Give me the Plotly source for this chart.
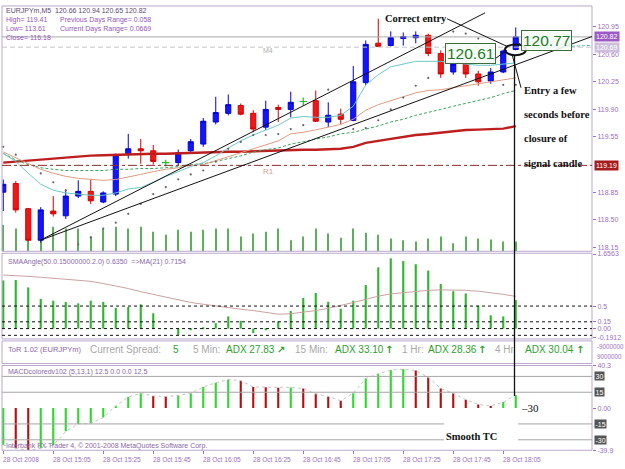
import plotly.graph_objects as go

# ---------------- data ----------------
tick_labels = ["28 Oct 2008", "28 Oct 15:05", "28 Oct 15:25", "28 Oct 15:45", "28 Oct 16:05",
               "28 Oct 16:25", "28 Oct 16:45", "28 Oct 17:05", "28 Oct 17:25", "28 Oct 17:45",
               "28 Oct 18:05"]
tick_bars = [0, 4, 8, 12, 16, 20, 24, 28, 32, 36, 40]

opens = [118.85, 118.96, 118.64, 118.24, 118.61, 118.55, 118.80, 118.86, 118.725, 118.825,
         119.34, 119.40, 119.375, 119.225, 119.225, 119.375, 119.46, 119.74, 119.85, 119.95,
         119.85, 119.675, 119.925, 119.90, 120.00, 120.01, 119.74, 119.84, 119.76, 120.24,
         120.74, 120.71, 120.80, 120.81, 120.84, 120.61, 120.375, 120.475, 120.35, 120.26,
         120.375, 120.66]
highs = [119.01, 118.99, 118.65, 118.66, 118.80, 118.875, 119.00, 119.01, 118.86, 119.34,
         119.59, 119.525, 119.45, 119.26, 119.39, 119.525, 119.79, 120.06, 120.09, 119.975,
         119.89, 120.01, 119.96, 120.125, 120.05, 120.14, 119.99, 119.91, 120.45, 120.775,
         121.05, 120.89, 120.875, 120.89, 120.86, 120.65, 120.51, 120.51, 120.39, 120.425,
         120.66, 120.94]
lows = [118.61, 118.59, 118.225, 118.21, 118.54, 118.51, 118.775, 118.70, 118.71, 118.80,
        119.275, 119.21, 119.20, 119.175, 119.19, 119.35, 119.425, 119.71, 119.825, 119.825,
        119.61, 119.64, 119.74, 119.80, 119.95, 119.74, 119.675, 119.71, 119.75, 120.21,
        120.69, 120.70, 120.71, 120.74, 120.575, 120.30, 120.34, 120.30, 120.20, 120.225,
        120.36, 120.65]
closes = [118.95, 118.625, 118.24, 118.625, 118.575, 118.80, 118.86, 118.74, 118.84, 119.325,
          119.40, 119.375, 119.24, 119.225, 119.35, 119.49, 119.75, 119.86, 119.96, 119.84,
          119.65, 119.90, 119.90, 119.99, 120.00, 119.75, 119.825, 119.775, 120.25, 120.725,
          120.70, 120.81, 120.825, 120.84, 120.61, 120.35, 120.475, 120.35, 120.25, 120.375,
          120.64, 120.82]
volume = [43, 37, 48, 48, 40, 37, 37, 24, 37, 40, 37, 40, 32, 27, 35, 32, 35, 37, 37, 24,
          29, 32, 37, 18, 24, 37, 29, 22, 37, 30, 27, 21, 18, 16, 21, 24, 13, 24, 21, 19, 16, 16]
sar = [119.425, 119.325, None, 119.0875, 118.975, 118.875, 118.1875, 118.275, 118.3875, 118.4625,
       118.575, 118.70, 118.825, 118.9125, 119.0125, 119.075, 119.125, 119.2375, 119.40, 119.4875,
       119.575, 119.575, 119.5875, 119.65, 119.70, None, 120.15, None, 119.65, 119.6625,
       119.7625, 119.90, 120.05, 120.20, 120.30, None, 120.8875, 120.8625, 120.80, None,
       120.2125, 120.2125]
ma_fast = [119.34, 119.24, 119.09, 118.95, 118.875, 118.84, 118.825, 118.81, 118.81, 118.84,
           118.89, 118.91, 118.975, 119.05, 119.11, 119.175, 119.225, 119.31, 119.41, 119.50,
           119.575, 119.64, 119.70, 119.79, 119.81, 119.80, 119.80, 119.825, 119.94, 120.21,
           120.34, 120.44, 120.475, 120.51, 120.51, 120.51, 120.49, 120.475, 120.46, 120.46,
           120.475, 120.49]
ma_mid = [119.36, 119.29, 119.21, 119.14, 119.09, 119.05, 119.025, 119.01, 119.00, 119.01,
          119.04, 119.075, 119.11, 119.14, 119.16, 119.19, 119.20, 119.25, 119.30, 119.35,
          119.40, 119.45, 119.50, 119.59, 119.61, 119.64, 119.675, 119.71, 119.775, 119.89,
          119.96, 120.01, 120.06, 120.11, 120.14, 120.15, 120.175, 120.20, 120.225, 120.25,
          120.275, 120.30]
ma_slow = [119.34, 119.26, 119.20, 119.16, 119.14, 119.125, 119.125, 119.125, 119.125, 119.14,
           119.14, 119.15, 119.15, 119.16, 119.175, 119.20, 119.21, 119.24, 119.275, 119.31,
           119.36, 119.39, 119.41, 119.46, 119.49, 119.525, 119.55, 119.59, 119.61, 119.65,
           119.69, 119.74, 119.775, 119.825, 119.86, 119.90, 119.94, 119.975, 120.01, 120.05,
           120.10, 120.14]
ma_long = [119.225, 119.238, 119.25, 119.263, 119.275, 119.288, 119.30, 119.313, 119.319, 119.325,
           119.331, 119.331, 119.338, 119.338, 119.344, 119.35, 119.35, 119.356, 119.363, 119.363,
           119.369, 119.375, 119.381, 119.388, 119.388, 119.388, 119.394, 119.40, 119.425, 119.475,
           119.50, 119.525, 119.55, 119.575, 119.588, 119.606, 119.625, 119.638, 119.644, 119.65,
           119.656, 119.688]
price_ticks = [120.95, 120.60, 120.25, 119.90, 119.55, 118.85, 118.50, 118.15]
bid_price = 120.82
m4_price = 120.69
r1_price = 119.19
trendlines = [((2.94, 118.2375), (38.54, 121.125)),
              ((2.94, 118.2375), (47.1, 120.825))]
entry_prices = [120.61, 120.77]

sma_angle = [1.07, 1.08, 0.915, 0.66, 0.62, 0.59, 0.56, 0.62, 0.59, 0.46,
             0.48, 0.54, 0.34, -0.01, -0.14, -0.03, 0.03, 0.12, 0.27, 0.17,
             -0.10, -0.03, 0.16, 0.39, 0.68, 0.79, 0.595, 0.44, 0.62, 0.97,
             1.36, 1.56, 1.50, 1.43, 1.29, 0.99, 0.83, 0.78, 0.51, 0.295, 0.27, 0.635]
sma_ma21 = [1.19, 1.18, 1.16, 1.14, 1.12, 1.10, 1.08, 1.05, 1.00, 0.95,
            0.89, 0.82, 0.76, 0.70, 0.64, 0.58, 0.54, 0.50, 0.46, 0.43,
            0.40, 0.36, 0.32, 0.33, 0.36, 0.40, 0.45, 0.51, 0.58, 0.65,
            0.72, 0.77, 0.80, 0.83, 0.85, 0.86, 0.86, 0.85, 0.83, 0.80, 0.76, 0.7154]
sma_levels = [0.5, 0.15, 0.0, -0.15]
sma_ticks = [1.6563, 0.5, 0.15, 0.0, -0.1912]
sma_ticktext = ["1.6563", "0.5", "0.15", "0.00", "-0.1912"]

macd = [-35, -38, -40, -38, -35, -22, -15, -14.5, -9, 2,
        10.5, 14, 11.5, 11, 12, 14, 20, 24, 27, 26,
        20, 19.8, 19.3, 19.6, 18.5, 13.5, 11, 7, 14, 28,
        32.5, 36, 37, 35.5, 29, 18.5, 14, 8, 3.5, 2, 5.7, 12.5]
macd_levels = [30, 15, -15, -30]
macd_range = [-39.9, 40.3]

spread = 5
adx_tf = ["5 Min:", "15 Min:", "1 Hr:", "4 Hr"]
adx_values = [27.83, 33.10, 28.36, 30.04]
adx_arrows = ["\u2197", "\u2191", "\u2191", "\u2191"]
info_high, info_low, info_close = 119.41, 113.61, 116.18
prev_range, cur_range = 0.058, 0.0669

# ---------------- geometry helpers ----------------
W, H = 625, 469
def PX(x):
    return x / W
def PY(y):
    return 1 - y / H

X_RANGE = [-0.1, 47.1]
FRAME_L, FRAME_R = 2, 592
MAIN = (2, 251)
SMA = (253, 340)
TOR = (342, 365)
MACD = (367, 453)

AXC = "#9a70bf"
FRAMEC = "#b9a7cc"
n = len(closes)
idx = list(range(n))
body_i = [i for i in idx if opens[i] != closes[i]]
doji_i = [i for i in idx if opens[i] == closes[i]]

fig = go.Figure()

# volume (base axis of main panel)
fig.add_trace(go.Bar(x=idx, y=volume, width=0.08, marker=dict(color="#5cb05c", line_width=0),
                     xaxis="x", yaxis="y"))

# moving averages + SAR on the price axis
fig.add_trace(go.Scatter(x=idx, y=ma_long, mode="lines", line=dict(color="#bf1e1e", width=2.4),
                         xaxis="x", yaxis="y2"))
fig.add_trace(go.Scatter(x=idx, y=ma_slow, mode="lines", line=dict(color="#3fa060", width=1, dash="3px,2px"),
                         xaxis="x", yaxis="y2"))
fig.add_trace(go.Scatter(x=idx, y=ma_mid, mode="lines", line=dict(color="#dc9c80", width=1),
                         xaxis="x", yaxis="y2"))
fig.add_trace(go.Scatter(x=idx, y=ma_fast, mode="lines", line=dict(color="#6cc8c8", width=1),
                         xaxis="x", yaxis="y2"))
fig.add_trace(go.Scatter(x=idx, y=sar, mode="markers", marker=dict(color="#666666", size=2.2),
                         xaxis="x", yaxis="y2"))

fig.add_trace(go.Candlestick(
    x=body_i, open=[opens[i] for i in body_i], high=[highs[i] for i in body_i],
    low=[lows[i] for i in body_i], close=[closes[i] for i in body_i],
    increasing=dict(line=dict(color="#0000d8", width=1), fillcolor="#1414ff"),
    decreasing=dict(line=dict(color="#d80000", width=1), fillcolor="#ee1818"),
    whiskerwidth=0, xaxis="x", yaxis="y2"))
if doji_i:
    gaps = [b - a for a, b in zip(doji_i[:-1], doji_i[1:])]
    tw = 0.3 / min(gaps) if gaps else 0.3
    fig.add_trace(go.Ohlc(
        x=doji_i, open=[opens[i] for i in doji_i], high=[highs[i] for i in doji_i],
        low=[lows[i] for i in doji_i], close=[closes[i] for i in doji_i],
        increasing_line_color="#22bb22", decreasing_line_color="#22bb22",
        line_width=1.2, tickwidth=min(tw, 0.5), xaxis="x", yaxis="y2"))

# SMA angle panel
fig.add_trace(go.Bar(x=idx, y=sma_angle, width=0.17, marker=dict(color="#2fb52f", line_width=0),
                     xaxis="x", yaxis="y3"))
fig.add_trace(go.Scatter(x=idx, y=sma_ma21, mode="lines", line=dict(color="#c9a3a0", width=1),
                         xaxis="x", yaxis="y3"))

# MACD panel
macd_cols = ["#2ed82e" if (i == 0 or macd[i] >= macd[i - 1]) else "#b01010" for i in idx]
fig.add_trace(go.Bar(x=idx, y=macd, width=0.17, marker=dict(color=macd_cols, line_width=0),
                     xaxis="x", yaxis="y5"))
fig.add_trace(go.Scatter(x=idx, y=macd, mode="lines", line=dict(color="#c4c4c4", width=1, dash="dot"),
                         xaxis="x", yaxis="y5"))

# ---------------- shapes ----------------
shapes = []
for (t, b) in (MAIN, SMA, TOR, MACD):
    shapes.append(dict(type="rect", xref="paper", yref="paper", x0=PX(FRAME_L), x1=PX(FRAME_R),
                       y0=PY(b), y1=PY(t), line=dict(color=FRAMEC, width=1)))
shapes.append(dict(type="line", xref="x", yref="y2", x0=X_RANGE[0], x1=X_RANGE[1], y0=bid_price, y1=bid_price,
                   line=dict(color="#a8a8a8", width=1)))
shapes.append(dict(type="line", xref="x", yref="y2", x0=X_RANGE[0], x1=X_RANGE[1], y0=m4_price, y1=m4_price,
                   line=dict(color="#c4c4c4", width=1, dash="5px,3px")))
shapes.append(dict(type="line", xref="x", yref="y2", x0=X_RANGE[0], x1=X_RANGE[1], y0=r1_price, y1=r1_price,
                   line=dict(color="#8c2c2c", width=1, dash="dashdot")))
for lv in sma_levels:
    shapes.append(dict(type="line", xref="x", yref="y3", x0=X_RANGE[0], x1=X_RANGE[1], y0=lv, y1=lv,
                       line=dict(color="#111111", width=1, dash="dot")))
for lv in macd_levels:
    shapes.append(dict(type="line", xref="x", yref="y5", x0=X_RANGE[0], x1=X_RANGE[1], y0=lv, y1=lv,
                       line=dict(color="#a6a6a6", width=1)))
# white box behind "Smooth TC"
shapes.append(dict(type="rect", xref="paper", yref="paper", x0=PX(444), x1=PX(518), y0=PY(446.5), y1=PY(425),
                   fillcolor="white", line=dict(width=0)))
# trend lines
for (a, b) in trendlines:
    shapes.append(dict(type="line", xref="x", yref="y2", x0=a[0], y0=a[1], x1=b[0], y1=b[1],
                       line=dict(color="#111111", width=1)))
# pointers / markup
for (x0, y0, x1, y1) in [(447, 15, 507, 43), (493, 57, 507, 47), (512, 51, 521, 85),
                         (519, 40, 524, 43)]:
    shapes.append(dict(type="line", xref="paper", yref="paper", x0=PX(x0), y0=PY(y0), x1=PX(x1), y1=PY(y1),
                       line=dict(color="#111111", width=1)))
shapes.append(dict(type="line", xref="paper", yref="paper", x0=PX(527), y0=PY(45), x1=PX(590), y1=PY(42),
                   line=dict(color="#55c0c0", width=1, dash="3px,2px")))
shapes.append(dict(type="line", xref="paper", yref="paper", x0=PX(514.5), y0=PY(52), x1=PX(514.5), y1=PY(398),
                   line=dict(color="#111111", width=1.3)))
shapes.append(dict(type="circle", xref="paper", yref="paper", x0=PX(505), x1=PX(526), y0=PY(52), y1=PY(41),
                   line=dict(color="#111111", width=2)))

# ---------------- annotations ----------------
SANS = "Liberation Sans"
SERIF = "Liberation Serif"
def txt(x, y, s, size=7, color=AXC, family=SANS, xanchor="left", **kw):
    d = dict(x=PX(x), y=PY(y), xref="paper", yref="paper", text=s, showarrow=False,
             xanchor=xanchor, yanchor="middle", font=dict(size=size, color=color, family=family))
    d.update(kw)
    return d

ann = []
ann.append(txt(4, 7, f"EURJPYm,M5  {opens[-1]:.2f} {highs[-1]:.2f} {lows[-1]:.2f} {closes[-1]:.2f}",
               size=7, color="#5b4a72"))
ann.append(txt(4, 16, f"High= {info_high:.2f}", color="#9457b8"))
ann.append(txt(58, 16, f"Previous Days Range= {prev_range}", color="#9457b8"))
ann.append(txt(4, 25, f"Low= {info_low:.2f}", color="#9457b8"))
ann.append(txt(58, 25, f"Current Days Range= {cur_range}", color="#9457b8"))
ann.append(txt(4, 34, f"Close= {info_close:.2f}", color="#9457b8"))
ann.append(txt(261, 47, "M4", size=7, color="#b0b0b0"))
ann.append(txt(261, 170, "R1", size=8, color="#d69c8c"))

# right-axis boxed labels
for val, bg in [(bid_price, "#9b5cc4"), (m4_price, "#cdbfdc"), (r1_price, "#a41c1c")]:
    ann.append(dict(x=PX(594), y=val, xref="paper", yref="y2", text=f"{val:.2f}", showarrow=False,
                    xanchor="left", yanchor="middle", bgcolor=bg, borderpad=1,
                    font=dict(size=7, color="white", family=SANS)))
for lv in macd_levels:
    ann.append(dict(x=PX(594), y=lv, xref="paper", yref="y5", text=f"{lv}", showarrow=False,
                    xanchor="left", yanchor="middle", bgcolor="#555555", borderpad=0.5,
                    font=dict(size=7, color="white", family=SANS)))
ann.append(txt(595, 348, "-9000000", size=6.3))
ann.append(txt(595, 358, "9000000", size=6.3))

# drawn annotations on the chart
BOLD = dict(family=SERIF, color="#111111")
ann.append(txt(383, 15, "<b>Correct entry</b>", size=10.5, **BOLD))
for k, line in enumerate(["Entry a few", "seconds before", "closure of", "signal candle"]):
    ann.append(txt(522, 88 + 24.5 * k, f"<b>{line}</b>", size=10.5, **BOLD))
for val, cx, cy in [(entry_prices[0], 470, 50.5), (entry_prices[1], 546, 37)]:
    ann.append(dict(x=PX(cx), y=PY(cy), xref="paper", yref="paper", text=f"{val:.2f}", showarrow=False,
                    xanchor="center", yanchor="middle", bgcolor="rgba(246,252,246,0.9)",
                    bordercolor="#3d6b3d", borderwidth=1, borderpad=1,
                    font=dict(size=15.5, color="#24792a", family=SANS)))

# panel captions
ann.append(txt(6, 262, f"SMAAngle(50.0.15000000.2.0) {sma_angle[-1]:.4f}  =>MA(21) {sma_ma21[-1]:.4f}",
               size=7, color="#8a68a8"))
ann.append(txt(6, 351, "ToR 1.02 (EURJPYm)", size=7.5, color="#8a68a8"))
ann.append(txt(88, 351, "Current Spread:", size=10, color="#a8a8a8"))
ann.append(txt(171, 351, f"{spread}", size=10, color="#2ea02e"))
tf_x = [191, 293, 400, 493]
adx_x = [224, 333, 426, 523]
arr_x = [275, 383, 476, 574]
for tf, v, a, x1, x2, x3 in zip(adx_tf, adx_values, adx_arrows, tf_x, adx_x, arr_x):
    ann.append(txt(x1, 351, tf, size=10, color="#a8a8a8"))
    ann.append(txt(x2, 351, f"ADX {v:.2f}", size=10, color="#2ea02e"))
    ann.append(txt(x3, 351, f"<b>{a}</b>", size=10, color="#2ea02e", family="DejaVu Sans"))
ann.append(txt(6, 374, f"MACDcoloredv102 (5,13,1) {macd[-1]:.1f} 0.0 0.0 {macd[-1]:.1f}",
               size=7, color="#8a68a8"))
ann.append(txt(519, 410, "\u201330", size=11, color="#111111", family=SERIF))
ann.append(txt(471, 439, "<b>Smooth TC</b>", size=10.5, xanchor="center", **BOLD))
ann.append(txt(4, 449, "Interbank FX Trader 4, \u00a9 2001-2008 MetaQuotes Software Corp.", size=7,
               color="#8a68a8"))
# time labels (left-aligned at the tick like the terminal)
for b, lab in zip(tick_bars, tick_labels):
    ann.append(dict(x=b, y=PY(462), xref="x", yref="paper", text=lab, showarrow=False,
                    xanchor="left", yanchor="middle", xshift=-2,
                    font=dict(size=6.6, color=AXC, family=SANS)))

tickfont = dict(size=7, color=AXC, family=SANS)
fig.update_layout(
    width=W, height=H, margin=dict(l=0, r=0, t=0, b=0, pad=0),
    paper_bgcolor="white", plot_bgcolor="white", showlegend=False,
    barmode="overlay", boxgap=0.42,
    xaxis=dict(domain=[PX(FRAME_L), PX(FRAME_R)], range=X_RANGE, anchor="y5",
               tickvals=tick_bars, ticks="outside", ticklen=3, tickcolor=AXC,
               showticklabels=False, showgrid=False, zeroline=False, showline=False,
               rangeslider=dict(visible=False)),
    yaxis=dict(domain=[PY(MAIN[1]), PY(MAIN[0])], range=[0, 400], visible=False, anchor="x"),
    yaxis2=dict(overlaying="y", side="right", anchor="x", range=[118.1, 121.2125],
                tickvals=price_ticks, ticktext=[f"{v:.2f}" for v in price_ticks],
                ticks="outside", ticklen=3, tickcolor=AXC, tickfont=tickfont,
                showgrid=False, zeroline=False, showline=False),
    yaxis3=dict(domain=[PY(SMA[1]), PY(SMA[0])], side="right", anchor="x",
                range=[-0.2298, 1.674], tickvals=sma_ticks, ticktext=sma_ticktext,
                ticks="outside", ticklen=3, tickcolor=AXC, tickfont=tickfont,
                showgrid=False, zeroline=False, showline=False),
    yaxis4=dict(domain=[PY(TOR[1]), PY(TOR[0])], range=[0, 1], visible=False, anchor="x"),
    yaxis5=dict(domain=[PY(MACD[1]), PY(MACD[0])], side="right", anchor="x",
                range=macd_range, tickvals=[macd_range[1], 0, macd_range[0]],
                ticktext=[f"{macd_range[1]}", "0.00", f"{macd_range[0]}"],
                ticks="outside", ticklen=3, tickcolor=AXC, tickfont=tickfont,
                showgrid=False, zeroline=False, showline=False),
    shapes=shapes, annotations=ann,
)

fig.write_html("out.html", config={"displayModeBar": False})
